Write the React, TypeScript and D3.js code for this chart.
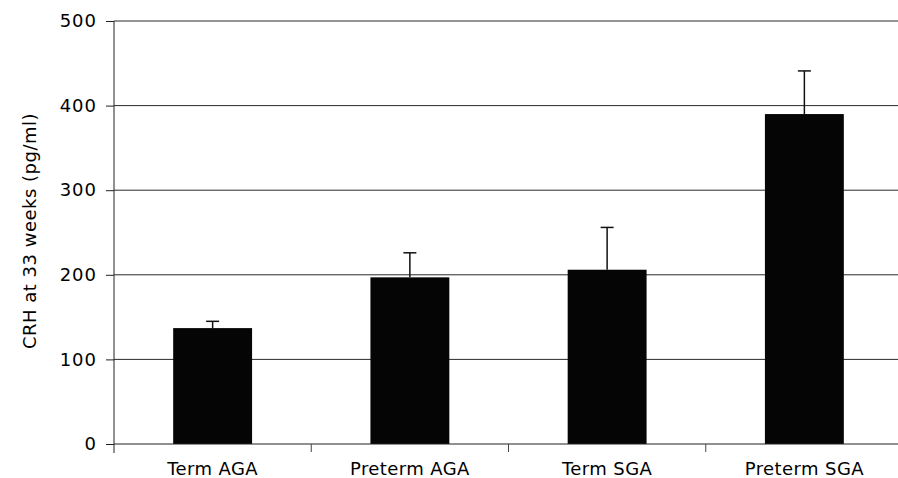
import React, { useRef, useEffect } from "react"
import * as d3 from "d3"

const groups = ["Term AGA", "Preterm AGA", "Term SGA", "Preterm SGA"]
const means = [137, 197, 206, 390]
const errTops = [145, 226, 256, 441]
const yTicks = [0, 100, 200, 300, 400, 500]

const App = () => {
  const ref = useRef<SVGSVGElement>(null)
  const width = 898
  const height = 478

  useEffect(() => {
    const svg = d3.select(ref.current)
    svg.selectAll("*").remove()
    const font = "'DejaVu Sans', sans-serif"

    const x = d3.scaleBand().domain(groups).range([114, 903]).paddingInner(0.6).paddingOuter(0.3)
    const y = d3.scaleLinear().domain([0, 500]).range([444, 21])

    // gridlines
    svg.append("g")
      .selectAll("line")
      .data(yTicks.slice(1))
      .enter()
      .append("line")
      .attr("x1", 114).attr("x2", 903)
      .attr("y1", d => y(d)).attr("y2", d => y(d))
      .attr("stroke", "#2a2a2a").attr("stroke-width", 1)

    // bars
    svg.append("g")
      .selectAll("rect")
      .data(groups)
      .enter()
      .append("rect")
      .attr("x", d => x(d)!)
      .attr("width", x.bandwidth())
      .attr("y", (d, i) => y(means[i]))
      .attr("height", (d, i) => y(0) - y(means[i]))
      .attr("fill", "#050505")

    // error bars (upper only)
    const eb = svg.append("g").attr("stroke", "#111").attr("stroke-width", 1.5)
    groups.forEach((g, i) => {
      const cx = x(g)! + x.bandwidth() / 2
      eb.append("line").attr("x1", cx).attr("x2", cx).attr("y1", y(means[i])).attr("y2", y(errTops[i]))
      eb.append("line").attr("x1", cx - 6.5).attr("x2", cx + 6.5).attr("y1", y(errTops[i])).attr("y2", y(errTops[i]))
    })

    // y axis
    const ya = svg.append("g").attr("transform", "translate(114,0)")
      .call(d3.axisLeft(y).tickValues(yTicks).tickSize(8).tickPadding(9))
    ya.select(".domain").remove()
    ya.selectAll(".tick line").attr("stroke", "#222")
    ya.selectAll("text").attr("font-family", font).attr("font-size", 18).attr("fill", "#000")
      .attr("letter-spacing", 1)
    svg.append("line").attr("x1", 114).attr("x2", 114).attr("y1", y(500)).attr("y2", 453)
      .attr("stroke", "#222").attr("stroke-width", 1)

    // x axis
    svg.append("line").attr("x1", 114).attr("x2", 903).attr("y1", y(0)).attr("y2", y(0))
      .attr("stroke", "#222").attr("stroke-width", 1)
    const step = x.step()
    svg.append("g")
      .selectAll("line")
      .data(groups.slice(1))
      .enter()
      .append("line")
      .attr("x1", d => x(d)! - (step - x.bandwidth()) / 2)
      .attr("x2", d => x(d)! - (step - x.bandwidth()) / 2)
      .attr("y1", y(0)).attr("y2", 452)
      .attr("stroke", "#444")
    svg.append("g")
      .selectAll("text")
      .data(groups)
      .enter()
      .append("text")
      .attr("x", d => x(d)! + x.bandwidth() / 2)
      .attr("y", 475)
      .attr("text-anchor", "middle")
      .attr("font-family", font)
      .attr("font-size", 18)
      .attr("letter-spacing", 0.4)
      .attr("fill", "#000")
      .text(d => d)

    // y title
    svg.append("text")
      .attr("transform", "translate(36,231) rotate(-90)")
      .attr("text-anchor", "middle")
      .attr("font-family", font)
      .attr("font-size", 18)
      .attr("letter-spacing", 0.5)
      .attr("fill", "#000")
      .text("CRH at 33 weeks (pg/ml)")
  }, [])

  return (
    <svg ref={ref} width={width} height={height}
      style={{ position: "absolute", left: 0, top: 0, background: "#fff" }} />
  )
}

export default App
